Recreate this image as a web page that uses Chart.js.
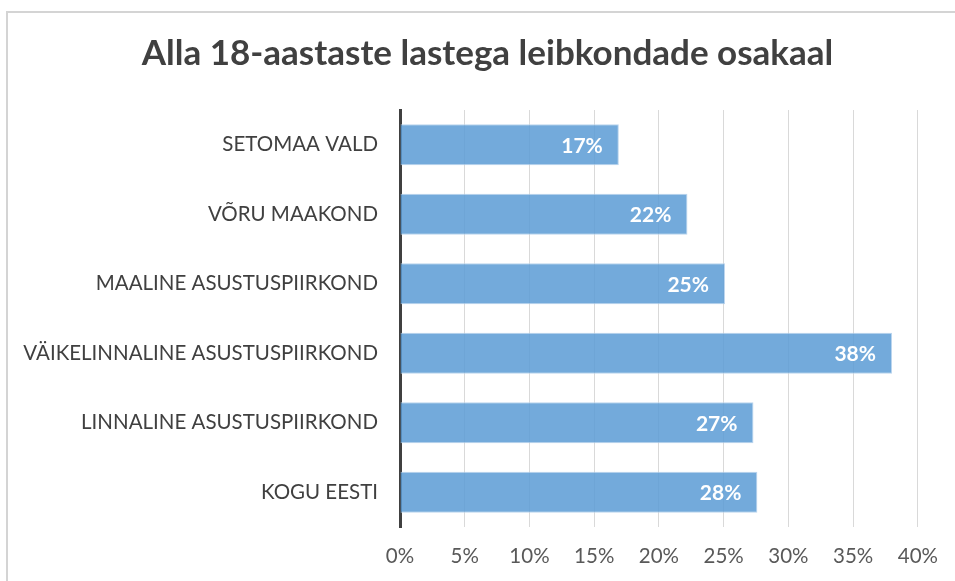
<!DOCTYPE html>
<html>
<head>
<meta charset="utf-8">
<script src="https://cdn.jsdelivr.net/npm/chart.js@4"></script>
<style>
  html, body { margin: 0; padding: 0; background: #fff; }
  #frame {
    position: absolute; left: 6px; top: 11px; width: 1000px; height: 600px;
    border-top: 2px solid #d4d4d4; border-left: 2px solid #d4d4d4;
  }
  #wrap { position: absolute; left: 0; top: 0; width: 955px; height: 581px; }
</style>
</head>
<body>
<div id="frame"></div>
<div id="wrap"><canvas id="chart"></canvas></div>
<script>
// Categories (top to bottom) and their shares in percent
const categories = [
  'SETOMAA VALD',
  'VÕRU MAAKOND',
  'MAALINE ASUSTUSPIIRKOND',
  'VÄIKELINNALINE ASUSTUSPIIRKOND',
  'LINNALINE ASUSTUSPIIRKOND',
  'KOGU EESTI'
];
const shares = [16.9, 22.2, 25.1, 38.0, 27.3, 27.6];

// Axis range
const axisMin = 0;
const axisMax = 40;
const axisStep = 5;

const chartTitle = 'Alla 18-aastaste lastega leibkondade osakaal';

// Title drawn by hand so it can sit off-centre like the original frame
const titlePlugin = {
  id: 'titlePlugin',
  afterDraw(chart) {
    const ctx = chart.ctx;
    ctx.save();
    ctx.font = 'bold 35px Lato';
    ctx.fillStyle = '#404040';
    ctx.textAlign = 'center';
    ctx.textBaseline = 'middle';
    ctx.fillText(chartTitle, 487.5, 54);
    ctx.restore();
  }
};

// Draw the white percent labels inside the end of each bar
const barLabels = {
  id: 'barLabels',
  afterDatasetsDraw(chart) {
    const ctx = chart.ctx;
    const meta = chart.getDatasetMeta(0);
    ctx.save();
    ctx.font = 'bold 21px Lato';
    ctx.fillStyle = '#ffffff';
    ctx.textAlign = 'right';
    ctx.textBaseline = 'middle';
    meta.data.forEach((bar, i) => {
      const value = chart.data.datasets[0].data[i];
      ctx.fillText(Math.round(value) + '%', bar.x - 16, bar.y + 1);
    });
    ctx.restore();
  }
};

const canvas = document.getElementById('chart');

new Chart(canvas, {
  type: 'bar',
  data: {
    labels: categories,
    datasets: [{
      data: shares,
      backgroundColor: 'rgba(91, 155, 213, 0.85)',
      borderColor: 'rgba(180, 208, 236, 0.9)',
      borderWidth: 1,
      barPercentage: 0.59,
      categoryPercentage: 1
    }]
  },
  options: {
    indexAxis: 'y',
    responsive: true,
    maintainAspectRatio: false,
    animation: false,
    layout: {
      padding: { left: 0, right: 37, top: 110, bottom: 0 }
    },
    plugins: {
      legend: { display: false },
      tooltip: { enabled: false },
      title: { display: false }
    },
    scales: {
      x: {
        min: axisMin,
        max: axisMax,
        afterFit(scale) { scale.height = 54; },
        ticks: {
          stepSize: axisStep,
          color: '#595959',
          padding: 17,
          font: { family: 'Lato', size: 20.5 },
          callback: v => v + '%'
        },
        grid: { color: '#d9d9d9', lineWidth: 1, drawTicks: false },
        border: { display: false }
      },
      y: {
        afterFit(scale) { scale.width = 400; },
        ticks: {
          color: '#404040',
          padding: 22,
          font: { family: 'Lato', size: 20.5 }
        },
        grid: { display: false, drawTicks: false },
        border: { display: true, color: '#404040', width: 3 }
      }
    }
  },
  plugins: [barLabels, titlePlugin]
});
</script>
</body>
</html>
